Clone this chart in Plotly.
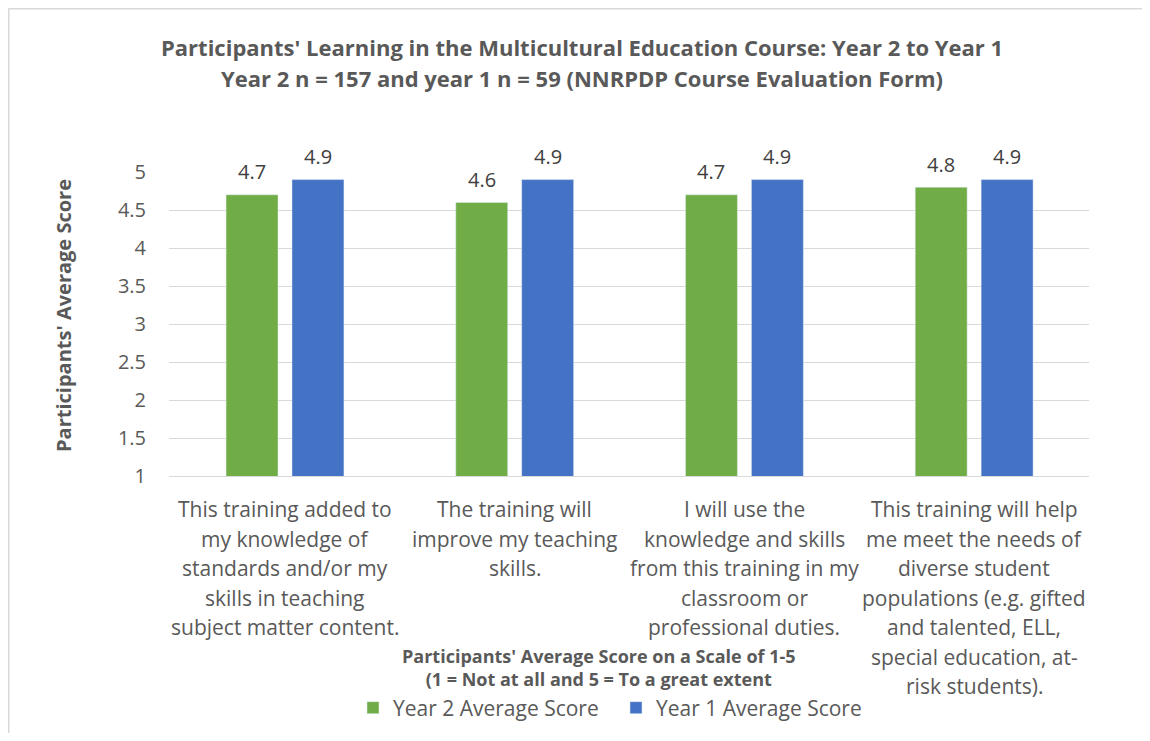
import plotly.graph_objects as go

categories = ["c1", "c2", "c3", "c4"]
category_lines = [
    ["This training added to", "my knowledge of", "standards and/or my", "skills in teaching", "subject matter content."],
    ["The training will", "improve my teaching", "skills."],
    ["I will use the", "knowledge and skills", "from this training in my", "classroom or", "professional duties."],
    ["This training will help", "me meet the needs of", "diverse student", "populations (e.g. gifted", "and talented, ELL,", "special education, at-", "risk students)."],
]
year2 = [4.7, 4.6, 4.7, 4.8]
year1 = [4.9, 4.9, 4.9, 4.9]
series_names = ["Year 2 Average Score", "Year 1 Average Score"]
y_ticks = [1, 1.5, 2, 2.5, 3, 3.5, 4, 4.5, 5]
y_tick_text = ["1", "1.5", "2", "2.5", "3", "3.5", "4", "4.5", "5"]

title_lines = ["Participants' Learning in the Multicultural Education Course: Year 2 to Year 1",
               "Year 2 n = 157 and year 1 n = 59 (NNRPDP Course Evaluation Form)"]
x_title = "Participants' Average Score on a Scale of 1-5<br>(1 = Not at all and 5 = To a great extent"
y_title = "Participants' Average Score"

# page has an 8px body margin; figure coordinates below are page pixels minus 8
W, H = 1134, 725
L, R, T, B = 161, 53, 164, 257
PW, PH = W - L - R, H - T - B
BARGAP, GROUPGAP = 0.426, 0.212

FONT = "Open Sans, Noto Sans, sans-serif"
GRAY = "#595959"
colors = ["#70AD47", "#4472C4"]

fig = go.Figure()
for name, vals, col in zip(series_names, [year2, year1], colors):
    fig.add_trace(go.Bar(x=categories, y=vals, name=name, marker_color=col, cliponaxis=False))

def py(ypix):
    return (H - B - ypix) / PH

def px(xpix):
    return (xpix - L) / PW

annotations = []
# data labels placed above each bar of the group
slot = PW / len(categories) * (1 - BARGAP) / 2
for k, vals in enumerate([year2, year1]):
    shift = (k - 0.5) * slot
    for cat, v in zip(categories, vals):
        annotations.append(dict(text=f"{v:.1f}", x=cat, y=v, xref="x", yref="y", xshift=shift, yshift=23,
                                showarrow=False, xanchor="center", yanchor="middle",
                                font=dict(size=20, color="#404040", family=FONT)))
# title
for i, line in enumerate(title_lines):
    annotations.append(dict(text=f"<b>{line}</b>", x=px(574), y=py(39 + 31 * i), xref="paper", yref="paper",
                            showarrow=False, xanchor="center", yanchor="middle",
                            font=dict(size=22, color=GRAY, family=FONT)))
# category labels
for cat, lines in zip(categories, category_lines):
    for j, line in enumerate(lines):
        annotations.append(dict(text=line, x=cat, xref="x", y=py(501 + 29.5 * j), yref="paper",
                                showarrow=False, xanchor="center", yanchor="middle",
                                font=dict(size=21, color=GRAY, family=FONT)))
# x title
annotations.append(dict(text=f"<b>{x_title}</b>", x=px(591), y=py(659), xref="paper", yref="paper",
                        showarrow=False, xanchor="center", yanchor="middle",
                        font=dict(size=18, color=GRAY, family=FONT)))
# y title
annotations.append(dict(text=f"<b>{y_title}</b>", x=px(55), y=py(308), xref="paper", yref="paper",
                        showarrow=False, xanchor="center", yanchor="middle", textangle=-90,
                        font=dict(size=20, color=GRAY, family=FONT)))

fig.update_layout(
    width=W, height=H,
    margin=dict(l=L, r=R, t=T, b=B, autoexpand=False),
    paper_bgcolor="white", plot_bgcolor="white",
    barmode="group", bargap=BARGAP, bargroupgap=GROUPGAP,
    showlegend=True,
    legend=dict(orientation="h", x=px(345), xanchor="left", y=py(700), yanchor="middle",
                font=dict(size=21, color=GRAY, family=FONT), traceorder="normal",
                entrywidth=218),
    annotations=annotations,
    shapes=[
        dict(type="line", xref="paper", yref="paper", x0=px(0.5), x1=px(W), y0=py(0.5), y1=py(0.5),
             line=dict(color="#d9d9d9", width=2)),
        dict(type="line", xref="paper", yref="paper", x0=px(0.5), x1=px(0.5), y0=py(0.5), y1=py(H),
             line=dict(color="#d9d9d9", width=2)),
    ],
    xaxis=dict(showticklabels=False, showgrid=False, linecolor="#d9d9d9", linewidth=1, showline=True,
               ticks=""),
    yaxis=dict(range=[1, 5], tickvals=y_ticks, ticktext=y_tick_text, showgrid=True, gridcolor="#d9d9d9",
               gridwidth=1, zeroline=False, showline=False, ticks="", ticklabelstandoff=22,
               tickfont=dict(size=20, color=GRAY, family=FONT)),
)

fig.write_html("out.html")
